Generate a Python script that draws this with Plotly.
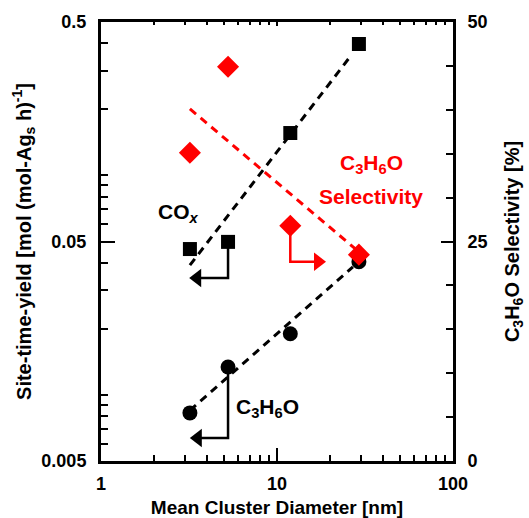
import plotly.graph_objects as go

# Mean cluster diameter of the Ag catalysts [nm]
diameter = [3.2, 5.27, 11.9, 29.2]
# Site-time-yields [mol (mol-Ag_s h)^-1]
cox_sty = [0.0462, 0.0498, 0.156, 0.397]
c3h6o_sty = [0.00828, 0.0134, 0.019, 0.0404]
# Propylene oxide selectivity [%]
selectivity = [35.1, 44.9, 26.8, 23.5]

# Trend-line end points
cox_trend_x = [3.2, 26.0]
cox_trend_y = [0.039, 0.347]
c3h6o_trend_x = [3.2, 27.0]
c3h6o_trend_y = [0.0085, 0.0383]
sel_trend_x = [3.2, 28.5]
sel_trend_y = [40.1, 24.0]

FONT = "Liberation Sans, Arial, sans-serif"
BLACK = "#000000"
RED = "#ff0000"
DASH = "8px,6px"

fig = go.Figure()

# dashed trends
fig.add_trace(go.Scatter(x=cox_trend_x, y=cox_trend_y, mode="lines",
                         line=dict(color=BLACK, width=3, dash=DASH), hoverinfo="skip"))
fig.add_trace(go.Scatter(x=c3h6o_trend_x, y=c3h6o_trend_y, mode="lines",
                         line=dict(color=BLACK, width=3, dash=DASH), hoverinfo="skip"))

# L-shaped pointer arrows toward the relevant axis
def pointer(x0, y0, y_drop, x_tip, color, yaxis, symbol):
    fig.add_trace(go.Scatter(x=[x0, x0, x_tip], y=[y0, y_drop, y_drop], mode="lines",
                             line=dict(color=color, width=2.5), yaxis=yaxis,
                             hoverinfo="skip"))
    fig.add_trace(go.Scatter(x=[x_tip], y=[y_drop], mode="markers", yaxis=yaxis,
                             marker=dict(symbol=symbol, size=16, color=color,
                                         line=dict(width=0)),
                             hoverinfo="skip"))

pointer(diameter[1], cox_sty[1], 0.0341, 3.52, BLACK, "y", "triangle-left")
pointer(diameter[1], c3h6o_sty[1], 0.00637, 3.55, BLACK, "y", "triangle-left")

fig.add_trace(go.Scatter(x=diameter, y=cox_sty, mode="markers", name="COx",
                         marker=dict(symbol="square", size=14, color=BLACK)))
fig.add_trace(go.Scatter(x=diameter, y=c3h6o_sty, mode="markers", name="C3H6O",
                         marker=dict(symbol="circle", size=15, color=BLACK)))

# selectivity on the right axis
fig.add_trace(go.Scatter(x=sel_trend_x, y=sel_trend_y, mode="lines", yaxis="y2",
                         line=dict(color=RED, width=3, dash=DASH), hoverinfo="skip"))
pointer(diameter[2], selectivity[2], 22.7, 17.1, RED, "y2", "triangle-right")
fig.add_trace(go.Scatter(x=diameter, y=selectivity, mode="markers", yaxis="y2",
                         name="Selectivity",
                         marker=dict(symbol="diamond", size=17, color=RED)))

tickfont = dict(family=FONT, size=18, color=BLACK, weight="bold")
titlefont = dict(family=FONT, size=19, color=BLACK, weight="bold")
ytitlefont = dict(family=FONT, size=20, color=BLACK, weight="bold")

fig.update_layout(
    width=529, height=518,
    margin=dict(l=101, r=76, t=22, b=57, autoexpand=False),
    plot_bgcolor="white", paper_bgcolor="white",
    showlegend=False,
    xaxis=dict(
        type="log", range=[0, 2], dtick=1, automargin=False,
        showline=True, linewidth=3, linecolor=BLACK,
        ticks="inside", ticklen=13, tickwidth=2, tickcolor=BLACK,
        minor=dict(dtick="D1", ticks="inside", ticklen=6, tickwidth=2,
                   tickcolor=BLACK, showgrid=False),
        showgrid=False, zeroline=False,
        tickfont=tickfont, ticklabelstandoff=4,
        title=dict(text="Mean Cluster Diameter [nm]", font=titlefont, standoff=12),
    ),
    xaxis2=dict(
        type="log", range=[0, 2], dtick=1, overlaying="x", side="top",
        automargin=False,
        showline=True, linewidth=3, linecolor=BLACK,
        ticks="inside", ticklen=4, tickwidth=1.5, tickcolor=BLACK,
        minor=dict(dtick="D1", ticks="inside", ticklen=3, tickwidth=1.5,
                   tickcolor=BLACK, showgrid=False),
        showticklabels=False, showgrid=False, zeroline=False,
    ),
    yaxis=dict(
        type="log", range=[-2.30103, -0.30103], automargin=False,
        tickvals=[0.005, 0.05, 0.5], ticktext=["0.005", "0.05", "0.5"],
        showline=True, linewidth=3, linecolor=BLACK,
        ticks="inside", ticklen=14, tickwidth=2, tickcolor=BLACK,
        minor=dict(tickvals=[0.006, 0.007, 0.008, 0.009, 0.01, 0.02, 0.03, 0.04,
                             0.06, 0.07, 0.08, 0.09, 0.1, 0.2, 0.3, 0.4],
                   ticks="inside", ticklen=7, tickwidth=2,
                   tickcolor=BLACK, showgrid=False),
        showgrid=False, zeroline=False,
        tickfont=tickfont, ticklabelstandoff=8,
        title=dict(text="Site-time-yield [mol (mol-Ag<sub>s</sub> h)<sup>-1</sup>]",
                   font=ytitlefont, standoff=5),
    ),
    yaxis2=dict(
        range=[0, 50], overlaying="y", side="right", automargin=False,
        tickvals=[0, 25, 50],
        showline=True, linewidth=3, linecolor=BLACK,
        ticks="inside", ticklen=12, tickwidth=2, tickcolor=BLACK,
        minor=dict(dtick=5, ticks="inside", ticklen=7, tickwidth=2,
                   tickcolor=BLACK, showgrid=False),
        showgrid=False, zeroline=False,
        tickfont=tickfont, ticklabelstandoff=8,
        title=dict(text="C<sub>3</sub>H<sub>6</sub>O Selectivity [%]",
                   font=ytitlefont, standoff=19),
    ),
)

# the overlaid top axis needs at least one trace
fig.add_trace(go.Scatter(x=[10], y=[0.05], xaxis="x2", mode="markers",
                         marker=dict(opacity=0), hoverinfo="skip"))

lab = dict(family=FONT, size=21, weight="bold")

def px_to_paper(px, py):
    return (px - 101) / 352, (461 - py) / 439

for text, (px, py), color in [
    ("CO<sub><i>x</i></sub>", (178, 213), BLACK),
    ("C<sub>3</sub>H<sub>6</sub>O", (267, 408), BLACK),
    ("C<sub>3</sub>H<sub>6</sub>O", (371, 164), RED),
    ("Selectivity", (371, 196), RED),
]:
    x, y = px_to_paper(px, py)
    fig.add_annotation(x=x, y=y, xref="paper", yref="paper", text=text,
                       showarrow=False, font=dict(lab, color=color),
                       xanchor="center", yanchor="middle")

fig.write_html("out.html")
